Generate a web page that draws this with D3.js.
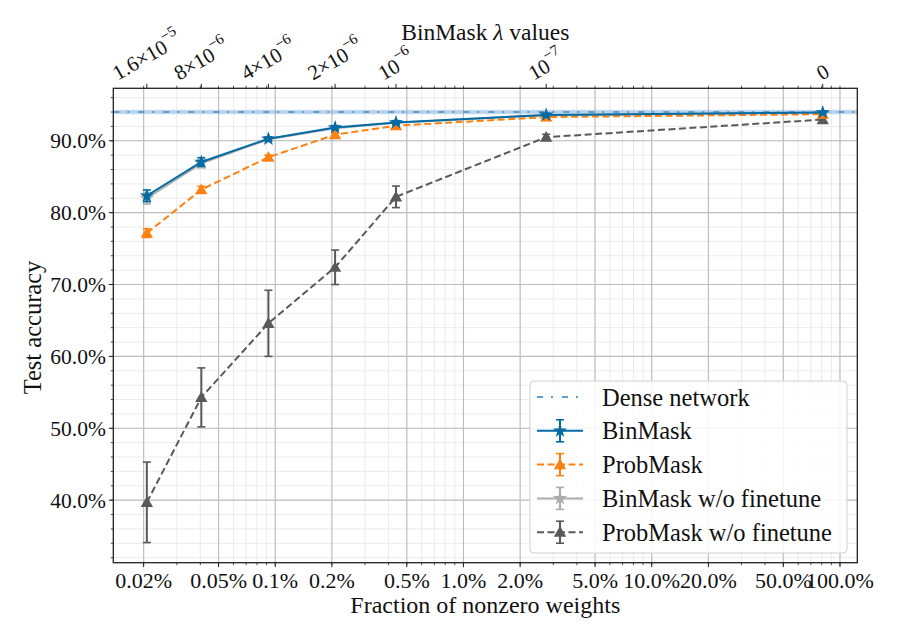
<!DOCTYPE html>
<html>
<head>
<meta charset="utf-8">
<script src="https://cdn.jsdelivr.net/npm/d3@7"></script>
<style>
  body { margin: 0; background: #fff; }
  text { font-family: "Liberation Serif", "DejaVu Serif", serif; fill: #111; }
</style>
</head>
<body>
<div id="chart"></div>
<script>
// fraction of nonzero weights (%) for each lambda setting
const sparsity = [0.0208, 0.0405, 0.092, 0.208, 0.438, 2.75, 81];
const lambdaLabels = [["1.6×10", "−5"], ["8×10", "−6"], ["4×10", "−6"], ["2×10", "−6"], ["10", "−6"], ["10", "−7"], ["0", ""]];

const binMask = [82.35, 87.05, 90.28, 91.85, 92.55, 93.6, 93.94];
const binMaskErr = [0.8, 0.6, 0.25, 0.25, 0.25, 0.2, 0.15];
const probMask = [77.15, 83.2, 87.7, 90.85, 92.1, 93.3, 93.7];
const probMaskErr = [0.6, 0.45, 0.3, 0.3, 0.25, 0.2, 0.25];
const binMaskNoFt = [82.0, 86.85, 90.2, 91.75, 92.5, 93.55, 93.9];
const binMaskNoFtErr = [0.8, 0.6, 0.3, 0.25, 0.25, 0.2, 0.15];
const probMaskNoFt = [39.7, 54.3, 64.6, 72.4, 82.2, 90.5, 92.95];
const probMaskNoFtErr = [5.6, 4.1, 4.6, 2.4, 1.5, 0.4, 0.35];

const dense = 94.0;
const denseErr = 0.3;

const xTicks = [0.02, 0.05, 0.1, 0.2, 0.5, 1, 2, 5, 10, 20, 50, 100];
const xTickLabels = ["0.02%", "0.05%", "0.1%", "0.2%", "0.5%", "1.0%", "2.0%", "5.0%", "10.0%", "20.0%", "50.0%", "100.0%"];
const yTicks = [40, 50, 60, 70, 80, 90];

const width = 900;
const height = 643;
const margin = { top: 88.3, right: 42.7, bottom: 80.3, left: 113.3 };
const w = width - margin.left - margin.right;
const h = height - margin.top - margin.bottom;

const svg = d3.select("#chart")
  .append("svg")
  .attr("width", width)
  .attr("height", height);

const g = svg.append("g")
  .attr("transform", `translate(${margin.left},${margin.top})`);

const x = d3.scaleLog().domain([0.0138, 123.6]).range([0, w]);
const y = d3.scaleLinear().domain([31.3, 97.3]).range([h, 0]);

// minor positions on the log axis
const minorX = [];
for (let n = -2; n <= 2; n++) {
  for (let k = 1; k <= 9; k++) {
    const v = k * Math.pow(10, n);
    if (v >= x.domain()[0] && v <= x.domain()[1]) minorX.push(v);
  }
}
const minorY = d3.range(32, 97, 2);

// grid
g.append("g").selectAll("line")
  .data(minorX).join("line")
  .attr("x1", d => x(d)).attr("x2", d => x(d))
  .attr("y1", 0).attr("y2", h)
  .attr("stroke", "#e6e6e6").attr("stroke-width", 0.8);

g.append("g").selectAll("line")
  .data(minorY).join("line")
  .attr("x1", 0).attr("x2", w)
  .attr("y1", d => y(d)).attr("y2", d => y(d))
  .attr("stroke", "#e6e6e6").attr("stroke-width", 0.8);

g.append("g").selectAll("line")
  .data(xTicks).join("line")
  .attr("x1", d => x(d)).attr("x2", d => x(d))
  .attr("y1", 0).attr("y2", h)
  .attr("stroke", "#bdbdbd").attr("stroke-width", 1.1);

g.append("g").selectAll("line")
  .data(yTicks).join("line")
  .attr("x1", 0).attr("x2", w)
  .attr("y1", d => y(d)).attr("y2", d => y(d))
  .attr("stroke", "#bdbdbd").attr("stroke-width", 1.1);

// dense network band
g.append("rect")
  .attr("x", 0).attr("width", w)
  .attr("y", y(dense + denseErr))
  .attr("height", y(dense - denseErr) - y(dense + denseErr))
  .attr("fill", "#5F9ED1").attr("opacity", 0.4);

g.append("line")
  .attr("x1", 0).attr("x2", w)
  .attr("y1", y(dense)).attr("y2", y(dense))
  .attr("stroke", "#5F9ED1").attr("stroke-width", 1.8)
  .attr("stroke-dasharray", "6,8,2,9");

const series = [
  { name: "BinMask w/o finetune", values: binMaskNoFt, err: binMaskNoFtErr, color: "#ABABAB", dash: null, symbol: d3.symbolStar },
  { name: "ProbMask w/o finetune", values: probMaskNoFt, err: probMaskNoFtErr, color: "#595959", dash: "7,3.5", symbol: d3.symbolTriangle },
  { name: "ProbMask", values: probMask, err: probMaskErr, color: "#FF800E", dash: "7,3.5", symbol: d3.symbolTriangle },
  { name: "BinMask", values: binMask, err: binMaskErr, color: "#006BA4", dash: null, symbol: d3.symbolStar }
];

const line = d3.line()
  .x(d => x(d.s))
  .y(d => y(d.v));

series.forEach(s => {
  const pts = sparsity.map((sp, i) => ({ s: sp, v: s.values[i], e: s.err[i] }));
  const sg = g.append("g");

  sg.append("path")
    .datum(pts)
    .attr("d", line)
    .attr("fill", "none")
    .attr("stroke", s.color)
    .attr("stroke-width", 2)
    .attr("stroke-dasharray", s.dash);

  const eb = sg.selectAll(".eb").data(pts).join("g");
  eb.append("line")
    .attr("x1", d => x(d.s)).attr("x2", d => x(d.s))
    .attr("y1", d => y(d.v - d.e)).attr("y2", d => y(d.v + d.e))
    .attr("stroke", s.color).attr("stroke-width", 2);
  [-1, 1].forEach(sign => {
    eb.append("line")
      .attr("x1", d => x(d.s) - 4).attr("x2", d => x(d.s) + 4)
      .attr("y1", d => y(d.v + sign * d.e)).attr("y2", d => y(d.v + sign * d.e))
      .attr("stroke", s.color).attr("stroke-width", 1.6);
  });

  sg.selectAll(".mk").data(pts).join("path")
    .attr("transform", d => `translate(${x(d.s)},${y(d.v) + (s.symbol === d3.symbolTriangle ? 1 : 0)})`)
    .attr("d", d3.symbol().type(s.symbol).size(s.symbol === d3.symbolTriangle ? 66 : 62))
    .attr("fill", s.color);
});

// spines
g.append("rect")
  .attr("width", w).attr("height", h)
  .attr("fill", "none").attr("stroke", "#222").attr("stroke-width", 1.3);

// bottom axis
const bottomAxis = g.append("g").attr("transform", `translate(0,${h})`);
bottomAxis.selectAll(".minor").data(minorX).join("line")
  .attr("x1", d => x(d)).attr("x2", d => x(d))
  .attr("y1", 0).attr("y2", 2.5)
  .attr("stroke", "#222").attr("stroke-width", 0.8);
bottomAxis.selectAll(".major").data(xTicks).join("line")
  .attr("x1", d => x(d)).attr("x2", d => x(d))
  .attr("y1", 0).attr("y2", 4.5)
  .attr("stroke", "#222").attr("stroke-width", 1);
bottomAxis.selectAll("text").data(xTicks).join("text")
  .attr("x", d => x(d))
  .attr("y", 25)
  .attr("text-anchor", "middle")
  .attr("font-size", 22)
  .text((d, i) => xTickLabels[i]);

// left axis
const leftAxis = g.append("g");
leftAxis.selectAll(".minor").data(minorY).join("line")
  .attr("x1", -2.5).attr("x2", 0)
  .attr("y1", d => y(d)).attr("y2", d => y(d))
  .attr("stroke", "#222").attr("stroke-width", 0.8);
leftAxis.selectAll(".major").data(yTicks).join("line")
  .attr("x1", -4.5).attr("x2", 0)
  .attr("y1", d => y(d)).attr("y2", d => y(d))
  .attr("stroke", "#222").attr("stroke-width", 1);
leftAxis.selectAll("text").data(yTicks).join("text")
  .attr("x", -7.5)
  .attr("y", d => y(d))
  .attr("dy", "0.35em")
  .attr("text-anchor", "end")
  .attr("font-size", 21.5)
  .text(d => d.toFixed(1) + "%");

// top axis (lambda values)
const topAxis = g.append("g");
topAxis.selectAll(".minor").data(minorX).join("line")
  .attr("x1", d => x(d)).attr("x2", d => x(d))
  .attr("y1", 0).attr("y2", -2.5)
  .attr("stroke", "#222").attr("stroke-width", 0.8);
topAxis.selectAll(".major").data(sparsity).join("line")
  .attr("x1", d => x(d)).attr("x2", d => x(d))
  .attr("y1", 0).attr("y2", -4.5)
  .attr("stroke", "#222").attr("stroke-width", 1);

sparsity.forEach((sp, i) => {
  const t = topAxis.append("text")
    .attr("text-anchor", "middle")
    .attr("dominant-baseline", "central")
    .attr("font-size", 21);
  t.append("tspan").text(lambdaLabels[i][0]);
  if (lambdaLabels[i][1]) {
    t.append("tspan")
      .attr("font-size", 15)
      .attr("dy", -9)
      .text(lambdaLabels[i][1]);
  }
  const len = t.node().getComputedTextLength();
  const bh = len * 0.5 + 20 * 0.866;
  t.attr("transform", `translate(${x(sp)},${-5 - bh / 2}) rotate(-30)`);
});

// axis titles
svg.append("text")
  .attr("x", margin.left + w / 2)
  .attr("y", 613)
  .attr("text-anchor", "middle")
  .attr("font-size", 24)
  .text("Fraction of nonzero weights");

svg.append("text")
  .attr("transform", `translate(41,${margin.top + h / 2 + 2}) rotate(-90)`)
  .attr("text-anchor", "middle")
  .attr("font-size", 24.5)
  .text("Test accuracy");

const topTitle = svg.append("text")
  .attr("x", margin.left + w / 2)
  .attr("y", 40)
  .attr("text-anchor", "middle")
  .attr("font-size", 23.5);
topTitle.append("tspan").text("BinMask ");
topTitle.append("tspan").attr("font-style", "italic").text("λ");
topTitle.append("tspan").text(" values");

// legend
const legendItems = [
  { name: "Dense network", color: "#5F9ED1", dash: "6,8,2,9", symbol: null, width: 1.8 },
  { name: "BinMask", color: "#006BA4", dash: null, symbol: d3.symbolStar, width: 2 },
  { name: "ProbMask", color: "#FF800E", dash: "7,3.5", symbol: d3.symbolTriangle, width: 2 },
  { name: "BinMask w/o finetune", color: "#ABABAB", dash: null, symbol: d3.symbolStar, width: 2 },
  { name: "ProbMask w/o finetune", color: "#595959", dash: "7,3.5", symbol: d3.symbolTriangle, width: 2 }
];

const legend = svg.append("g").attr("transform", "translate(530,381)");
legend.append("rect")
  .attr("width", 317).attr("height", 172)
  .attr("rx", 4)
  .attr("fill", "#fff").attr("fill-opacity", 0.85)
  .attr("stroke", "#d0d0d0").attr("stroke-width", 1);

const rows = legend.selectAll(".row").data(legendItems).join("g")
  .attr("transform", (d, i) => `translate(0,${16 + i * 33.8})`);

rows.append("line")
  .attr("x1", 7).attr("x2", 53)
  .attr("stroke", d => d.color)
  .attr("stroke-width", d => d.width)
  .attr("stroke-dasharray", d => d.dash);

rows.filter(d => d.symbol).each(function(d) {
  const r = d3.select(this);
  r.append("line")
    .attr("x1", 30).attr("x2", 30).attr("y1", -11).attr("y2", 11)
    .attr("stroke", d.color).attr("stroke-width", 2);
  [-11, 11].forEach(yy => {
    r.append("line")
      .attr("x1", 26).attr("x2", 34).attr("y1", yy).attr("y2", yy)
      .attr("stroke", d.color).attr("stroke-width", 1.6);
  });
  r.append("path")
    .attr("transform", `translate(30,${d.symbol === d3.symbolTriangle ? 1 : 0})`)
    .attr("d", d3.symbol().type(d.symbol).size(d.symbol === d3.symbolTriangle ? 66 : 62))
    .attr("fill", d.color);
});

rows.append("text")
  .attr("x", 72)
  .attr("dy", "0.35em")
  .attr("font-size", 24.5)
  .text(d => d.name);
</script>
</body>
</html>
